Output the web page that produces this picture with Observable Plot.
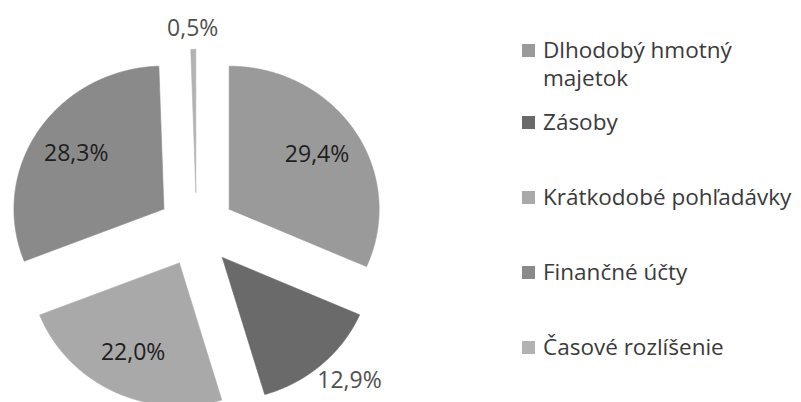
<!DOCTYPE html>
<html>
<head>
<meta charset="utf-8">
<script src="https://cdn.jsdelivr.net/npm/d3@7"></script>
<script src="https://cdn.jsdelivr.net/npm/@observablehq/plot@0.6"></script>
<style>
  html, body { margin: 0; padding: 0; background: #fff; }
  #wrap { position: relative; width: 801px; height: 402px; overflow: hidden; font-family: "Open Sans", sans-serif; }
  #chart { position: absolute; left: 0; top: 0; }
  .item { position: absolute; left: 522px; display: flex; align-items: flex-start; }
  .sw { width: 13px; height: 13px; margin-top: 8px; flex: none; }
  .lab { margin-left: 8px; font-size: 22.5px; line-height: 28px; color: #3a3a3a; max-width: 255px; }
</style>
</head>
<body>
<div id="wrap"><div id="chart"></div><div id="legend"></div></div>
<script>
// ---- data ----
const categories = ["Dlhodobý hmotný majetok", "Zásoby", "Krátkodobé pohľadávky", "Finančné účty", "Časové rozlíšenie"];
const shares = [29.4, 12.9, 22.0, 28.3, 0.5];
const labels = ["29,4%", "12,9%", "22,0%", "28,3%", "0,5%"];
// ---- style ----
const palette = ["#9a9a9a", "#6a6a6a", "#a9a9a9", "#8a8a8a", "#b2b2b2"];

const W = 801, H = 402;
const cx = 196, cy = 229, rx = 150, ry = 143;  // pie centre and radii in pixels
const explode = 0.26;      // explosion, in radius units
const fontSize = 23;

const arcs = d3.pie().sort(null).value(d => d)(shares);

const rows = [];
const inside = [], outside = [];
arcs.forEach((a, i) => {
  const mid = (a.startAngle + a.endAngle) / 2;
  const ox = explode * Math.sin(mid), oy = -explode * Math.cos(mid);
  const cat = categories[i];
  rows.push({cat, x: ox, y: oy});
  const n = Math.max(4, Math.ceil((a.endAngle - a.startAngle) / 0.005));
  for (let k = 0; k <= n; k++) {
    const t = a.startAngle + (a.endAngle - a.startAngle) * k / n;
    rows.push({cat, x: ox + Math.sin(t), y: oy - Math.cos(t)});
  }
  rows.push({cat, x: ox, y: oy});
  const share = shares[i] / d3.sum(shares);
  if (share > 0.18) {
    inside.push({x: ox + 0.7 * Math.sin(mid), y: oy - 0.7 * Math.cos(mid), text: labels[i]});
  } else {
    const ux = Math.sin(mid), uy = -Math.cos(mid);
    const halfW = labels[i].length * 6.5, halfH = 11, gap = 10;
    const px = ux * gap + ux * halfW, py = uy * gap + uy * halfH; // pixels
    outside.push({x: ox + ux + px / rx, y: oy + uy + py / ry, text: labels[i]});
  }
});

const chart = Plot.plot({
  width: W, height: H,
  margin: 0,
  x: {domain: [-cx / rx, (W - cx) / rx], range: [0, W], axis: null},
  y: {domain: [-cy / ry, (H - cy) / ry], range: [0, H], axis: null},
  color: {domain: categories, range: palette},
  style: {fontFamily: "Open Sans, sans-serif", background: "#fff"},
  marks: [
    Plot.line(rows, {x: "x", y: "y", z: "cat", fill: "cat", stroke: "cat", strokeWidth: 0.6, curve: "linear"}),
    Plot.text(inside, {x: "x", y: "y", text: "text", fill: "#1e1e1e", fontSize, fontFamily: "Open Sans"}),
    Plot.text(outside, {x: "x", y: "y", text: "text", fill: "#505050", fontSize, fontFamily: "Open Sans"})
  ]
});
document.getElementById("chart").appendChild(chart);

// legend
const legend = document.getElementById("legend");
categories.forEach((c, i) => {
  const item = document.createElement("div");
  item.className = "item";
  item.style.top = (i === 0 ? 36 : 108 + 75 * (i - 1)) + "px";
  const sw = document.createElement("div");
  sw.className = "sw";
  sw.style.background = palette[i];
  const lab = document.createElement("div");
  lab.className = "lab";
  lab.textContent = c;
  item.appendChild(sw);
  item.appendChild(lab);
  legend.appendChild(item);
});
</script>
</body>
</html>
